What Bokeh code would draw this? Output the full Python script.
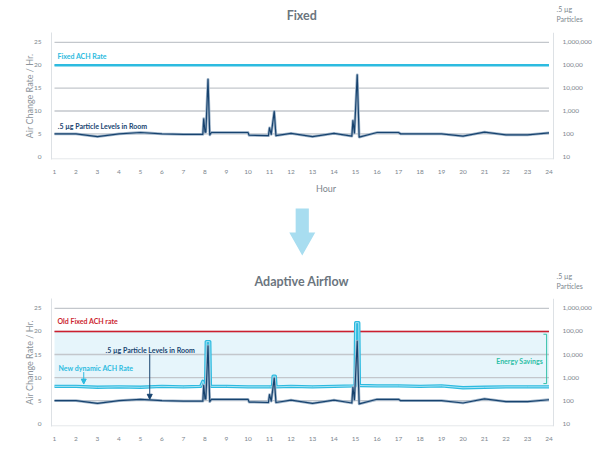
from bokeh.plotting import figure
from bokeh.models import LinearAxis, FixedTicker, Label, Arrow, NormalHead, Range1d
from bokeh.layouts import column
from bokeh.embed import file_html
from bokeh.resources import INLINE
from bokeh.core.properties import value

# ---------------- data ----------------
hour_ticks = list(range(1, 25))
ach_ticks = [0, 5, 10, 15, 20, 25]
grid_levels = [5, 10, 15, 20, 25]
particle_tick_labels = ["10", "100", "1,000", "10,000", "100,00", "1,000,000"]

particle_hours = [1, 2, 3, 4, 5, 6, 7, 7.9, 7.94, 8.0, 8.04, 8.14, 8.22, 8.3, 10.0, 10.05,
                  10.95, 11.0, 11.08, 11.22, 11.3, 12, 13, 14, 14.83, 14.88, 14.95, 15.08,
                  15.17, 16, 17, 17.1, 18, 19, 20, 21, 22, 23, 24]
particle_level = [5.0, 5.0, 4.4, 5.0, 5.3, 5.0, 4.9, 4.9, 8.3, 5.4, 5.4, 16.9, 4.8, 5.3, 5.3, 4.7,
                  4.6, 6.3, 4.9, 9.9, 4.6, 5.1, 4.4, 5.1, 4.5, 7.9, 5.2, 17.9,
                  4.3, 5.3, 5.3, 5.0, 5.0, 5.0, 4.5, 5.4, 4.8, 4.8, 5.2]

dynamic_hours = [1, 2, 3, 4, 5, 6, 7, 7.8, 7.9, 7.98, 8.03, 8.06, 8.22, 8.25, 8.3, 9, 10, 11,
                 11.14, 11.17, 11.27, 11.3, 12, 13, 14, 14.98, 15.01, 15.15, 15.18, 16, 17,
                 18, 19, 20, 21, 22, 23, 24]
dynamic_ach = [8.1, 8.1, 7.9, 8.0, 7.9, 8.1, 8.0, 8.1, 9.2, 8.3, 8.3, 17.8, 17.8, 8.2, 8.1, 8.1, 8.0, 8.0,
               8.0, 10.3, 10.3, 8.0, 8.1, 8.0, 8.1, 8.2, 21.9, 21.9, 8.3, 8.2, 8.2,
               8.1, 8.2, 7.8, 7.9, 8.0, 8.0, 8.0]

fixed_ach = 20
savings_top = 19.4
savings_bottom = 8.7

# ---------------- style ----------------
FONT = "Lato"
GREY_TXT = "#7d868e"
TITLE_C = "#6b757e"
GRID_C = "#c3c7cc"
AXIS_C = "#dde1e5"
CYAN = "#2dbbe0"
NAVY = "#17436f"
NAVY_LIGHT = "#a3b7cb"
RED = "#cc1f2f"
FILL = "#e6f5fb"
TEAL = "#2fbfa6"
ARROW_C = "#a8ddf0"

W = 600
LEFT = 51                      # px of left border
PX = 21.5                      # px per hour
X0 = 1 - 3 / PX                # hour at the left frame edge
X1 = X0 + (W - LEFT) / PX      # hour at the right page edge
X_AXIS_R = 24.21               # hour of the right axis line
X_UNITS = X_AXIS_R + 3 / PX    # left edge of the right-hand texts
X_MID = (hour_ticks[0] + hour_ticks[-1]) / 2
Y0, Y1 = -0.6, 27.15


def blank(height):
    f = figure(width=W, height=height, x_range=Range1d(X0, X1), y_range=Range1d(0, height),
               output_backend="svg", toolbar_location=None, min_border=0, min_border_left=LEFT,
               x_axis_location=None, y_axis_location=None)
    f.outline_line_color = None
    f.grid.visible = False
    return f


def header(f, title, y_title, y_unit1, y_unit2):
    f.text(x=[X_MID], y=[y_title], text=[title], text_align="center", text_baseline="middle",
           text_font=value(FONT), text_font_size="12.5px", text_font_style="bold",
           text_color=TITLE_C)
    f.text(x=[X_UNITS, X_UNITS], y=[y_unit1, y_unit2], text=[".5 µg", "Particles"], text_align="left",
           text_baseline="middle", text_font=value(FONT), text_font_size="7px", text_color=GREY_TXT)


def base_chart(height, border_bottom, xlabel):
    p = figure(width=W, height=height, x_range=Range1d(X0, X1), y_range=Range1d(Y0, Y1),
               output_backend="svg", toolbar_location=None,
               min_border_left=LEFT, min_border_right=0, min_border_top=0,
               min_border_bottom=border_bottom)
    p.outline_line_color = None
    p.grid.visible = False

    xa = p.xaxis[0]
    xa.ticker = FixedTicker(ticks=hour_ticks)
    xa.major_tick_line_color = None
    xa.minor_tick_line_color = None
    xa.axis_line_color = None
    xa.major_label_text_font = FONT
    xa.major_label_text_font_size = "6.5px"
    xa.major_label_text_color = GREY_TXT
    xa.major_label_standoff = 4
    if xlabel:
        xa.axis_label = xlabel
        xa.axis_label_standoff = 6
        xa.axis_label_text_font = FONT
        xa.axis_label_text_font_style = "normal"
        xa.axis_label_text_font_size = "9px"
        xa.axis_label_text_color = GREY_TXT

    ya = p.yaxis[0]
    ya.ticker = FixedTicker(ticks=ach_ticks)
    ya.major_tick_line_color = None
    ya.minor_tick_line_color = None
    ya.axis_line_color = AXIS_C
    ya.major_label_text_font = FONT
    ya.major_label_text_font_size = "6.5px"
    ya.major_label_text_color = GREY_TXT
    ya.major_label_standoff = 4
    ya.axis_label = "Air Change Rate / Hr."
    ya.axis_label_standoff = -4
    ya.axis_label_text_font = FONT
    ya.axis_label_text_font_style = "normal"
    ya.axis_label_text_font_size = "9px"
    ya.axis_label_text_color = "#8c949b"

    # right axis (particle counts) whose labels sit just right of the drawn axis line
    ra = LinearAxis(ticker=FixedTicker(ticks=ach_ticks),
                    major_label_overrides={t: lab for t, lab in zip(ach_ticks, particle_tick_labels)})
    ra.major_tick_line_color = None
    ra.minor_tick_line_color = None
    ra.axis_line_color = None
    ra.major_label_text_font = FONT
    ra.major_label_text_font_size = "6.5px"
    ra.major_label_text_color = GREY_TXT
    ra.major_label_standoff = -round((X1 - X_UNITS) * PX)
    p.add_layout(ra, "right")

    # frame lines: bottom and right
    p.segment(x0=[X0, X_AXIS_R], x1=[X_AXIS_R, X_AXIS_R], y0=[Y0 + 0.12, Y0], y1=[Y0 + 0.12, Y1],
              line_color=AXIS_C, line_width=1)
    return p


def grid(p, levels):
    p.segment(x0=hour_ticks[0], x1=hour_ticks[-1], y0=levels, y1=levels,
              line_color=GRID_C, line_width=1.4)


def particle_line(p):
    p.line(particle_hours, particle_level, line_color=NAVY_LIGHT, line_width=2.8, line_join="round")
    p.line(particle_hours, particle_level, line_color=NAVY, line_width=1.2, line_join="round")


# ---------------- header of top chart ----------------
h1 = blank(32)
header(h1, "Fixed", 17, 23.5, 13.5)

# ---------------- top chart: Fixed ----------------
p1 = base_chart(164, 36, "Hour")
grid(p1, grid_levels)
p1.line([hour_ticks[0], hour_ticks[-1]], [fixed_ach, fixed_ach], line_color=CYAN, line_width=2.4)
particle_line(p1)
p1.add_layout(Label(x=1.14, y=22.1, text="Fixed ACH Rate", text_baseline="middle", text_font=FONT,
                    text_font_size="7px", text_font_style="bold", text_color=CYAN))
p1.add_layout(Label(x=1.15, y=6.7, text=".5 µg Particle Levels in Room", text_baseline="middle",
                    text_font=FONT, text_font_size="7px", text_font_style="bold", text_color=NAVY))

# ---------------- arrow + header of bottom chart ----------------
mid = blank(102)
cx = X_MID + 0.5 / PX
shaft_hw, head_hw = 6.6 / PX, 13 / PX
shaft_top, head_base, tip = 90, 66, 43
mid.patch([cx - shaft_hw, cx + shaft_hw, cx + shaft_hw, cx + head_hw, cx, cx - head_hw, cx - shaft_hw],
          [shaft_top, shaft_top, head_base, head_base, tip, head_base, head_base],
          fill_color=ARROW_C, line_color=None)
header(mid, "Adaptive Airflow", 17, 23, 13)

# ---------------- bottom chart: Adaptive Airflow ----------------
p2 = base_chart(154, 26, None)
p2.varea(x=dynamic_hours, y1=dynamic_ach, y2=[fixed_ach] * len(dynamic_hours), fill_color=FILL)
grid(p2, grid_levels)
p2.line([hour_ticks[0], hour_ticks[-1]], [fixed_ach, fixed_ach], line_color=RED, line_width=1.6)
p2.line(dynamic_hours, dynamic_ach, line_color=CYAN, line_width=3.4, line_join="round")
p2.line(dynamic_hours, dynamic_ach, line_color="#a9e3f4", line_width=1.0, line_join="round")
particle_line(p2)

p2.add_layout(Label(x=1.14, y=22.2, text="Old Fixed ACH rate", text_baseline="middle", text_font=FONT,
                    text_font_size="7px", text_font_style="bold", text_color=RED))
p2.add_layout(Label(x=1.19, y=12.1, text="New dynamic ACH Rate", text_baseline="middle", text_font=FONT,
                    text_font_size="7px", text_font_style="bold", text_color=CYAN))
p2.add_layout(Arrow(end=NormalHead(size=5, fill_color=CYAN, line_color=CYAN),
                    x_start=2.36, y_start=11.2, x_end=2.36, y_end=8.6, line_color=CYAN, line_width=1))
p2.add_layout(Label(x=5.45, y=15.9, text=".5 µg Particle Levels in Room", text_align="center",
                    text_baseline="middle", text_font=FONT, text_font_size="7px",
                    text_font_style="bold", text_color=NAVY))
p2.add_layout(Arrow(end=NormalHead(size=5, fill_color=NAVY, line_color=NAVY),
                    x_start=5.43, y_start=15.1, x_end=5.43, y_end=5.3, line_color=NAVY, line_width=1))
p2.line([23.74, 23.89, 23.89, 23.74], [savings_top, savings_top, savings_bottom, savings_bottom],
        line_color=TEAL, line_width=1)
p2.add_layout(Label(x=23.72, y=13.7, text="Energy Savings", text_align="right", text_baseline="middle",
                    text_font=FONT, text_font_size="7px", text_font_style="bold", text_color=TEAL))

layout = column(h1, p1, mid, p2)
open("out.html", "w").write(file_html(layout, INLINE))
